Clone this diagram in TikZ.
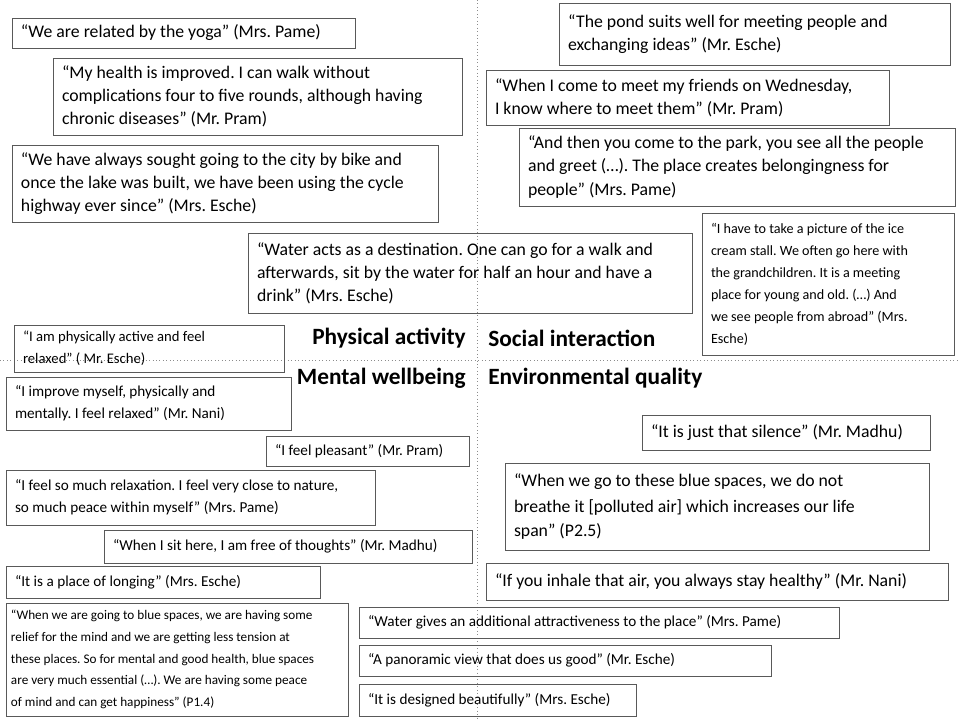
\documentclass[tikz,border=0pt]{standalone}
\usepackage{fontspec}
\setmainfont{Carlito}
\frenchspacing
\begin{document}
\begin{tikzpicture}[x=0.75pt,y=-0.75pt]
\tikzset{quote/.style = {draw=black!65,line width=0.7pt,align=flush left,inner sep=0pt,font=\fontsize{13.3}{17.3}\selectfont}}
\tikzset{small/.style = {quote,font=\fontsize{11.4}{16.5}\selectfont}}
\tikzset{head/.style = {font=\fontsize{17.5}{20}\selectfont\bfseries,inner sep=0pt}}
\tikzset{divider/.style = {draw=black!45,dotted,line width=0.6pt}}
\newcommand{\qbox}[7][quote]{% style, name, x1, y1, x2, y2, text
  \node[#1,minimum width={(#5-#3)*0.75pt},minimum height={(#6-#4)*0.75pt},text width={(#5-#3-18)*0.75pt}] (#2) at ({(#3+#5)/2},{(#4+#6)/2}) {#7};}
\useasboundingbox (0,0) rectangle (960,720);
\draw[divider] (477,0) -- (477,720);
\draw[divider] (0,360) -- (960,360);
% left column
\qbox{yoga}{12}{18}{355}{48}{“We are related by the yoga” (Mrs. Pame)}
\qbox{health}{53}{58}{462}{135}{“My health is improved. I can walk without\\ complications four to five rounds, although having\\ chronic diseases” (Mr. Pram)}
\qbox{bike}{12}{145}{438}{222}{“We have always sought going to the city by bike and\\ once the lake was built, we have been using the cycle\\ highway ever since” (Mrs. Esche)}
\qbox{destination}{248}{233}{692}{313}{“Water acts as a destination. One can go for a walk and\\ afterwards, sit by the water for half an hour and have a\\ drink” (Mrs. Esche)}
\qbox[small]{active}{14}{325}{284}{372}{\fontsize{11}{16}\selectfont “I am physically active and feel\\ relaxed” ( Mr. Esche)}
\qbox[small]{improve}{6}{377}{291}{430}{“I improve myself, physically and\\ mentally. I feel relaxed” (Mr. Nani)}
\qbox[small]{pleasant}{266}{436}{469}{466}{“I feel pleasant” (Mr. Pram)}
\qbox[small]{nature}{6}{470}{375}{525}{“I feel so much relaxation. I feel very close to nature,\\ so much peace within myself” (Mrs. Pame)}
\qbox[small]{thoughts}{104}{530}{472}{563}{“When I sit here, I am free of thoughts” (Mr. Madhu)}
\qbox[small]{longing}{6}{566}{320}{598}{“It is a place of longing” (Mrs. Esche)}
\node[small,minimum width={342*0.75pt},minimum height={113*0.75pt},text width={332*0.75pt},font=\fontsize{9.9}{16.2}\selectfont] (relief) at (177,659.5) {“When we are going to blue spaces, we are having some\\ relief for the mind and we are getting less tension at\\ these places. So for mental and good health, blue spaces\\ are very much essential (…). We are having some peace\\ of mind and can get happiness” (P1.4)};
% right column
\qbox{pond}{559}{3}{950}{65}{“The pond suits well for meeting people and\\ exchanging ideas” (Mr. Esche)}
\qbox{friends}{486}{70}{889}{125}{“When I come to meet my friends on Wednesday,\\ I know where to meet them” (Mr. Pram)}
\qbox{park}{519}{128}{955}{206}{“And then you come to the park, you see all the people\\ and greet (…). The place creates belongingness for\\ people” (Mrs. Pame)}
\qbox[small]{icecream}{702}{213}{954}{355}{\fontsize{10.6}{16.5}\selectfont “I have to take a picture of the ice\\ cream stall. We often go here with\\ the grandchildren. It is a meeting\\ place for young and old. (…) And\\ we see people from abroad” (Mrs.\\ Esche)}
\qbox{silence}{642}{415}{930}{450}{“It is just that silence” (Mr. Madhu)}
\qbox{breathe}{505}{463}{929}{550}{\fontsize{13.3}{19.5}\selectfont “When we go to these blue spaces, we do not\\ breathe it [polluted air] which increases our life\\ span” (P2.5)}
\qbox{inhale}{486}{563}{948}{600}{“If you inhale that air, you always stay healthy” (Mr. Nani)}
\qbox[small]{attractive}{359}{607}{839}{638}{“Water gives an additional attractiveness to the place” (Mrs. Pame)}
\qbox[small]{panoramic}{359}{645}{771}{676}{“A panoramic view that does us good” (Mr. Esche)}
\qbox[small]{designed}{359}{684}{636}{716}{“It is designed beautifully” (Mrs. Esche)}
% headings
\node[head,anchor=east] (physical) at (466,338) {Physical activity};
\node[head,anchor=west] (social) at (488,338) {Social interaction};
\node[head,anchor=east] (mental) at (466,378) {Mental wellbeing};
\node[head,anchor=west] (environment) at (488,378) {Environmental quality};
\end{tikzpicture}
\end{document}
